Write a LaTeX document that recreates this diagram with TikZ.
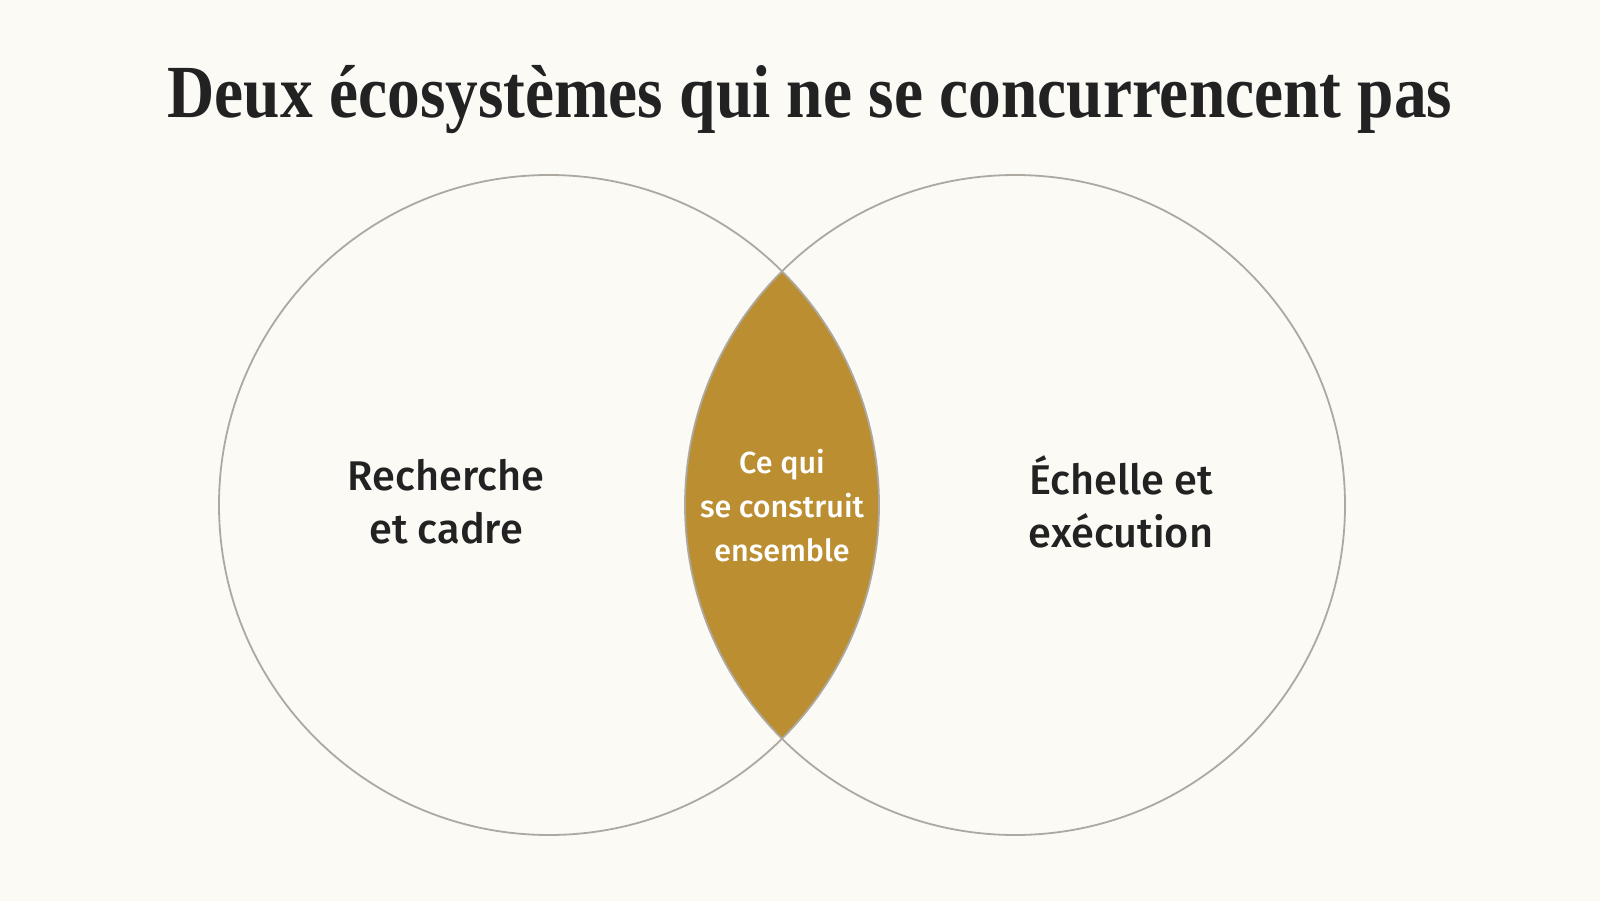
\documentclass[tikz,border=0pt]{standalone}
\usepackage{fontspec}
\setmainfont{Liberation Serif}
\newfontfamily\lab{Fira Sans}[UprightFont={* Medium}]
\definecolor{bg}{HTML}{FBFAF5}
\definecolor{gold}{HTML}{BA8E31}
\definecolor{ring}{HTML}{ADA9A1}
\definecolor{ink}{HTML}{222222}
\tikzset{
  ring/.style={circle, draw=ring, line width=1.8pt, minimum size=660pt, inner sep=0pt},
  sidelabel/.style={font=\lab\fontsize{41.5}{53}\selectfont, text=ink, align=center},
  midlabel/.style={font=\lab\fontsize{30.5}{44}\selectfont, text=white, align=center}
}
\begin{document}
\begin{tikzpicture}[x=1pt,y=1pt]
\fill[bg] (0,0) rectangle (1600,-901);
\useasboundingbox (0,0) rectangle (1600,-901);
\begin{scope}
  \clip (549,-505) circle (330);
  \fill[gold] (1015,-505) circle (330);
\end{scope}
\node[ring] (L) at (549,-505) {};
\node[ring] (R) at (1015,-505) {};
\node[anchor=base, text=ink, font=\bfseries\fontsize{75}{80}\selectfont] (title) at (810,-118) {\scalebox{0.872}[1]{Deux écosystèmes qui ne se concurrencent pas}};
\node[sidelabel] (lt) at (446,-502) {Recherche\\et cadre};
\node[sidelabel] (rt) at (1121,-502) {Échelle et\\exécution};
\node[midlabel] (mt) at (782,-506) {Ce qui\\se construit\\ensemble};
\end{tikzpicture}
\end{document}
